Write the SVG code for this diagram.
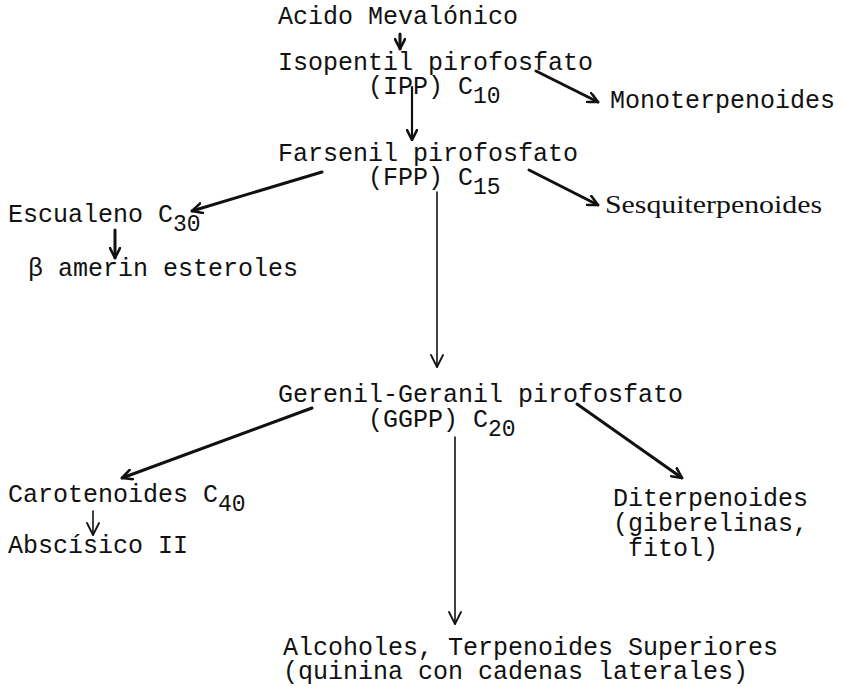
<svg xmlns="http://www.w3.org/2000/svg" width="843" height="699" viewBox="0 0 843 699">
<style>
text{font-family:"Liberation Mono","Courier New",monospace;font-size:25px;fill:#111}
.sub{font-size:23px}
.serif{font-family:"Liberation Serif","Times New Roman",serif;font-size:25px}
.c{stroke:#111;fill:none;stroke-linecap:round}
.thick{stroke-width:3}
.mid{stroke-width:2.2}
.thin{stroke-width:1.6}
</style>
<defs>
<marker id="ah" viewBox="0 0 12 12" refX="11" refY="6" markerWidth="12" markerHeight="12" markerUnits="userSpaceOnUse" orient="auto">
<polyline points="1,1 11,6 1,11" fill="none" stroke="#111" stroke-width="2.6" stroke-linejoin="round" stroke-linecap="round"/>
</marker>
<marker id="ahs" viewBox="0 0 14 14" refX="13" refY="7" markerWidth="14" markerHeight="14" markerUnits="userSpaceOnUse" orient="auto">
<polyline points="1,1 13,7 1,13" fill="none" stroke="#111" stroke-width="1.8" stroke-linejoin="round" stroke-linecap="round"/>
</marker>
</defs>
<g id="connectors">
<line class="c thick" x1="400" y1="34" x2="400" y2="49" marker-end="url(#ah)"/>
<line class="c thick" x1="536" y1="71" x2="598" y2="102" marker-end="url(#ah)"/>
<line class="c mid" x1="412" y1="87" x2="412" y2="140" marker-end="url(#ah)"/>
<line class="c thick" x1="322" y1="172" x2="192" y2="211" marker-end="url(#ah)"/>
<line class="c thick" x1="529" y1="170" x2="598" y2="205" marker-end="url(#ah)"/>
<line class="c thick" x1="115" y1="230" x2="115" y2="258" marker-end="url(#ah)"/>
<line class="c thin" x1="437" y1="192" x2="437" y2="367" marker-end="url(#ahs)"/>
<line class="c thick" x1="312" y1="408" x2="122" y2="478" marker-end="url(#ah)"/>
<line class="c thick" x1="577" y1="404" x2="682" y2="478" marker-end="url(#ah)"/>
<line class="c thin" x1="455" y1="437" x2="455" y2="624" marker-end="url(#ahs)"/>
<line class="c thin" x1="93" y1="511" x2="93" y2="535" marker-end="url(#ahs)"/>
</g>
<g id="acido"><text x="278" y="24">Acido Mevalónico</text></g>
<g id="ipp"><text x="278" y="70">Isopentil pirofosfato</text><text x="368" y="94">(IPP) C<tspan class="sub" dy="9">10</tspan></text></g>
<g id="mono"><text x="610" y="108">Monoterpenoides</text></g>
<g id="fpp"><text x="278" y="161">Farsenil pirofosfato</text><text x="368" y="185">(FPP) C<tspan class="sub" dy="9">15</tspan></text></g>
<g id="sesqui"><text class="serif" x="605" y="213" textLength="217" lengthAdjust="spacingAndGlyphs">Sesquiterpenoides</text></g>
<g id="escualeno"><text x="8" y="222">Escualeno C<tspan class="sub" dy="9">30</tspan></text></g>
<g id="amerin"><text x="28" y="276">β amerin esteroles</text></g>
<g id="ggpp"><text x="278" y="402">Gerenil-Geranil pirofosfato</text><text x="368" y="427">(GGPP) C<tspan class="sub" dy="9">20</tspan></text></g>
<g id="carot"><text x="8" y="502">Carotenoides C<tspan class="sub" dy="9">40</tspan></text></g>
<g id="absc"><text x="8" y="553">Abscísico II</text></g>
<g id="diter"><text x="613" y="506">Diterpenoides</text><text x="613" y="531">(giberelinas,</text><text x="628" y="556">fitol)</text></g>
<g id="alcoholes"><text x="283" y="655">Alcoholes, Terpenoides Superiores</text><text x="283" y="679">(quinina con cadenas laterales)</text></g>
</svg>
